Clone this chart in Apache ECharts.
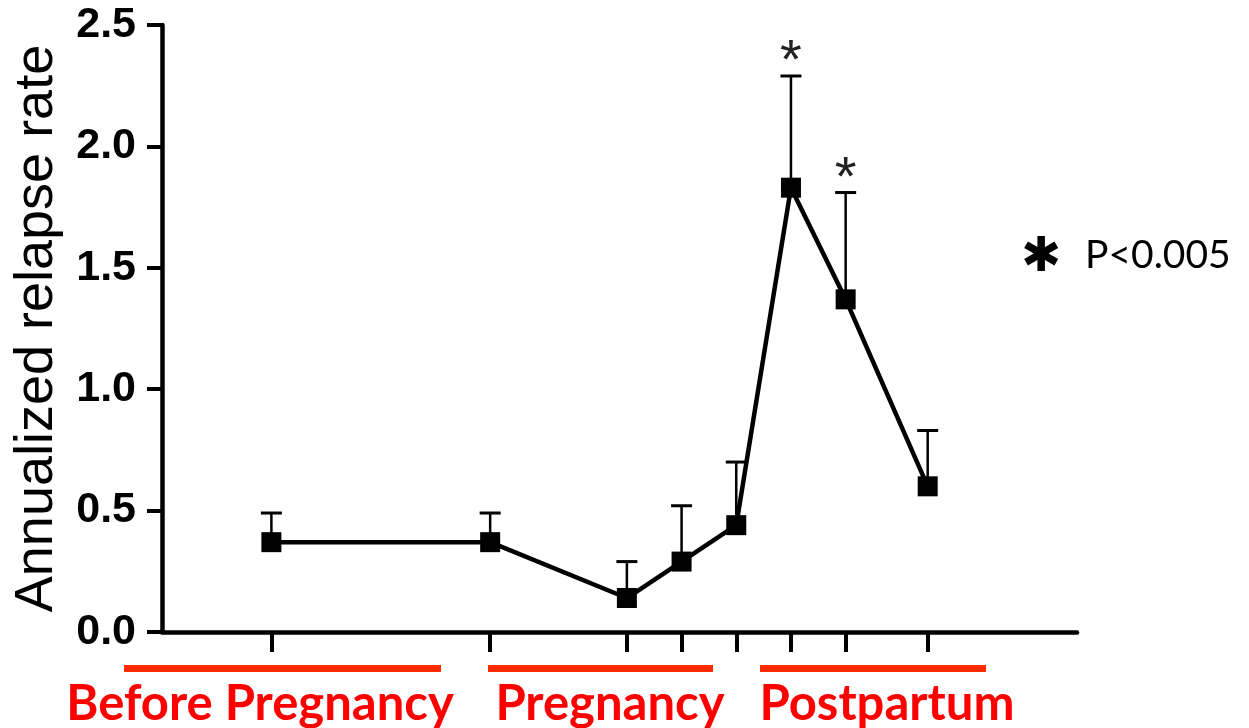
<!DOCTYPE html>
<html>
<head>
<meta charset="utf-8">
<title>Annualized relapse rate</title>
<script src="https://cdn.jsdelivr.net/npm/echarts@6/dist/echarts.min.js"></script>
<style>
  html, body { margin: 0; padding: 0; background: #ffffff; }
  #chart { width: 1249px; height: 728px; }
</style>
</head>
<body>
<div id="chart"></div>
<script>
// Time points along the x scale (before pregnancy, trimesters, postpartum periods)
const xPositions = [2, 6, 8.5, 9.5, 10.5, 11.5, 12.5, 14];
// Mean annualized relapse rate at each time point
const meanRate = [0.37, 0.37, 0.14, 0.29, 0.44, 1.83, 1.37, 0.60];
// Upper end of the error bar
const errorUpper = [0.49, 0.49, 0.29, 0.52, 0.70, 2.29, 1.81, 0.83];
// Points marked as significant (P<0.005)
const significant = [false, false, false, false, false, true, true, false];
// Phase labels shown under the axis
const phaseLabels = ['Before Pregnancy', 'Pregnancy', 'Postpartum'];
const yAxisTitle = 'Annualized relapse rate';
const legendText = 'P<0.005';

const chart = echarts.init(document.getElementById('chart'));

const lineData = xPositions.map((x, i) => [x, meanRate[i]]);
const errData = xPositions.map((x, i) => [x, meanRate[i], errorUpper[i], significant[i] ? 1 : 0]);

const RED_LINE = '#ff2a00';
const RED_TEXT = '#ff0000';

const option = {
  backgroundColor: '#ffffff',
  animation: false,
  grid: { left: 162, right: 172, top: 25, bottom: 96, containLabel: false },
  xAxis: {
    type: 'value',
    min: 0,
    max: 16.73,
    splitLine: { show: false },
    axisLine: { show: true, lineStyle: { color: '#000', width: 4.5 } },
    axisTick: {
      show: true,
      customValues: xPositions,
      length: 20,
      inside: false,
      lineStyle: { color: '#000', width: 4 }
    },
    axisLabel: { show: false }
  },
  yAxis: {
    type: 'value',
    min: 0,
    max: 2.5,
    interval: 0.5,
    name: yAxisTitle,
    nameLocation: 'middle',
    nameRotate: 90,
    nameGap: 98,
    nameTextStyle: { fontFamily: 'Liberation Sans', fontSize: 54, color: '#000' },
    splitLine: { show: false },
    axisLine: { show: true, lineStyle: { color: '#000', width: 4.5 } },
    axisTick: { show: true, length: 15, lineStyle: { color: '#000', width: 4 } },
    axisLabel: {
      margin: 26,
      fontFamily: 'Liberation Sans',
      fontWeight: 'bold',
      fontSize: 43,
      color: '#000',
      formatter: v => v.toFixed(1)
    }
  },
  series: [
    {
      type: 'custom',
      z: 2,
      data: errData,
      renderItem: function (params, api) {
        const x = api.value(0);
        const lo = api.coord([x, api.value(1)]);
        const hi = api.coord([x, api.value(2)]);
        const half = 10.5;
        const children = [
          { type: 'line', shape: { x1: lo[0], y1: lo[1], x2: hi[0], y2: hi[1] },
            style: { stroke: '#000', lineWidth: 2.5 } },
          { type: 'line', shape: { x1: hi[0] - half, y1: hi[1], x2: hi[0] + half, y2: hi[1] },
            style: { stroke: '#000', lineWidth: 3 } }
        ];
        if (api.value(3) === 1) {
          children.push({
            type: 'text',
            style: {
              text: '*',
              x: hi[0],
              y: hi[1] - 13,
              textAlign: 'center',
              textVerticalAlign: 'middle',
              fontFamily: 'Liberation Sans',
              fontSize: 56,
              fill: '#222'
            }
          });
        }
        return { type: 'group', children: children };
      }
    },
    {
      type: 'line',
      z: 3,
      data: lineData,
      symbol: 'rect',
      symbolSize: 20,
      itemStyle: { color: '#000' },
      lineStyle: { color: '#000', width: 4.5 }
    }
  ],
  graphic: [
    { type: 'line', shape: { x1: 124, y1: 668.5, x2: 441, y2: 668.5 }, style: { stroke: RED_LINE, lineWidth: 7 } },
    { type: 'line', shape: { x1: 488, y1: 668.5, x2: 713, y2: 668.5 }, style: { stroke: RED_LINE, lineWidth: 7 } },
    { type: 'line', shape: { x1: 760, y1: 668.5, x2: 986, y2: 668.5 }, style: { stroke: RED_LINE, lineWidth: 7 } },
    { type: 'text', x: 260, y: 704, style: { text: phaseLabels[0], textAlign: 'center', textVerticalAlign: 'middle',
        fontFamily: 'Lato', fontWeight: 'bold', fontSize: 49, fill: RED_TEXT } },
    { type: 'text', x: 610, y: 704, style: { text: phaseLabels[1], textAlign: 'center', textVerticalAlign: 'middle',
        fontFamily: 'Lato', fontWeight: 'bold', fontSize: 49, fill: RED_TEXT } },
    { type: 'text', x: 887, y: 704, style: { text: phaseLabels[2], textAlign: 'center', textVerticalAlign: 'middle',
        fontFamily: 'Lato', fontWeight: 'bold', fontSize: 49, fill: RED_TEXT } },
    { type: 'text', x: 1041, y: 259, style: { text: '\u2731', textAlign: 'center', textVerticalAlign: 'middle',
        fontFamily: 'DejaVu Sans', fontWeight: 'bold', fontSize: 48, fill: '#000' } },
    { type: 'text', x: 1085, y: 255, style: { text: legendText, textAlign: 'left', textVerticalAlign: 'middle',
        fontFamily: 'Lato', fontSize: 39, fill: '#000' } }
  ]
};

chart.setOption(option);
</script>
</body>
</html>
